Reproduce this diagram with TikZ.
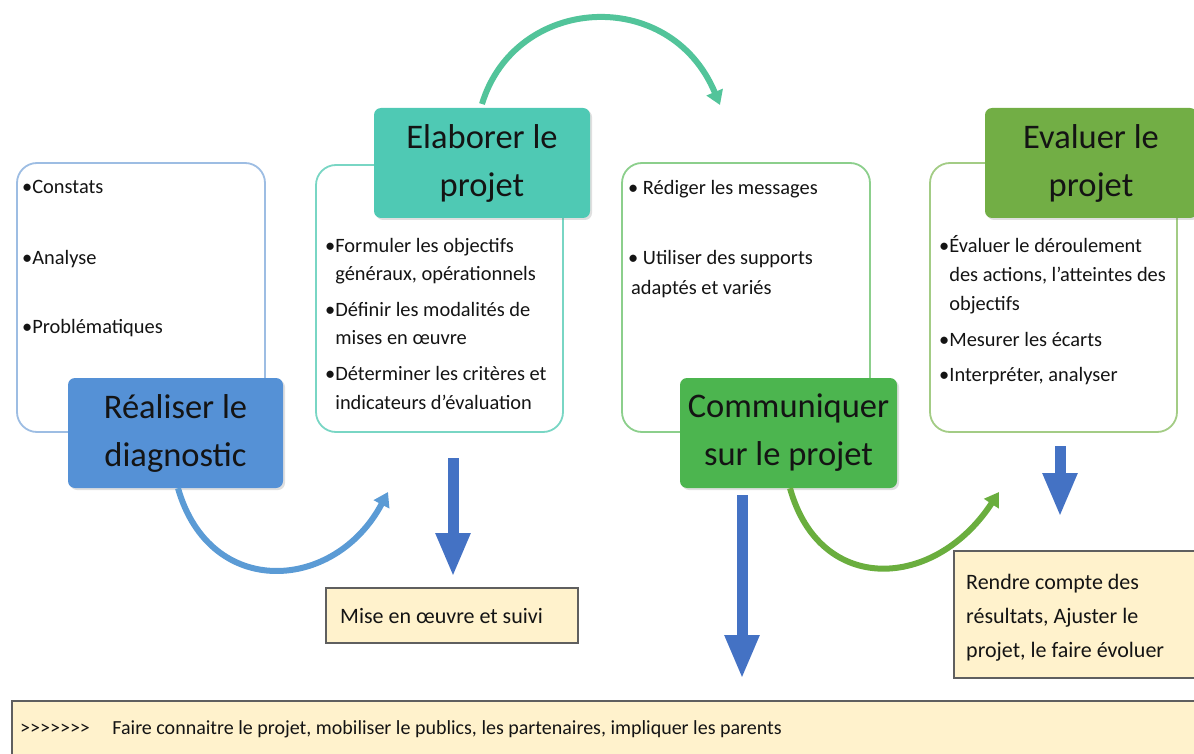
\documentclass[tikz,border=0pt]{standalone}
\usepackage{fontspec}
\setmainfont{Carlito}
\newfontfamily\gtfont{Carlito}[Ligatures=TeXOff]
\usetikzlibrary{arrows.meta,shadows}
\definecolor{tblue}{HTML}{5591D6}
\definecolor{tteal}{HTML}{4FC9B4}
\definecolor{tgreen}{HTML}{4CB54F}
\definecolor{tolive}{HTML}{72AE45}
\definecolor{bblue}{HTML}{9DBDE3}
\definecolor{bteal}{HTML}{79D6C4}
\definecolor{bgreen}{HTML}{8CCF8C}
\definecolor{bolive}{HTML}{A3CC85}
\definecolor{cblue}{HTML}{5B9BD5}
\definecolor{cteal}{HTML}{52C49A}
\definecolor{cgreen}{HTML}{6AAE3E}
\definecolor{arrowblue}{HTML}{4472C4}
\definecolor{yfill}{HTML}{FFF2CC}
\definecolor{ygray}{HTML}{5F5F5F}
\definecolor{ink}{HTML}{141414}
\tikzset{
  whitebox/.style={draw, line width=1.8pt, rounded corners=20pt, fill=white, inner sep=0pt},
  titlebox/.style={rounded corners=7pt, inner sep=0pt, align=center, text=ink,
     font=\fontsize{34.5}{48}\selectfont, drop shadow={opacity=0.25, shadow xshift=2pt, shadow yshift=-2pt}},
  txt/.style={anchor=base west, inner sep=0pt, text=ink, font=\fontsize{20.4}{28}\selectfont},
  ytxt/.style={anchor=base west, inner sep=0pt, text=ink, font=\fontsize{22}{28}\selectfont},
  ybox/.style={draw=ygray, line width=1.6pt, fill=yfill, inner sep=0pt},
  bigarrow/.style={draw=arrowblue, line width=11pt, -{Triangle[length=44pt,width=32pt]}},
  curvearrow/.style={line width=6pt, -{Triangle[length=14pt,width=17pt]}}
}
\begin{document}
\begin{tikzpicture}[x=1pt,y=-1pt]
\useasboundingbox (0,0) rectangle (1194,754);
\clip (0,0) rectangle (1194,754);

% white content boxes
\node[whitebox, draw=bblue, minimum width=248pt, minimum height=269pt] (box1) at (141,297.5) {};
\node[whitebox, draw=bteal, minimum width=247pt, minimum height=267pt] (box2) at (439.5,298.5) {};
\node[whitebox, draw=bgreen, minimum width=248pt, minimum height=269pt] (box3) at (746,297.5) {};
\node[whitebox, draw=bolive, minimum width=247pt, minimum height=269pt] (box4) at (1053.5,297.5) {};

% title boxes
\node[titlebox, fill=tblue, minimum width=215pt, minimum height=110pt] (t1) at (175.5,433) {Réaliser le\\diagnostic};
\node[titlebox, fill=tteal, minimum width=216pt, minimum height=110pt] (t2) at (482,163) {Elaborer le\\projet};
\node[titlebox, fill=tgreen, minimum width=217pt, minimum height=110pt] (t3) at (788.5,433) {Communiquer\\sur le projet};
\node[titlebox, fill=tolive, minimum width=212pt, minimum height=110pt] (t4) at (1091,163) {Evaluer le\\projet};

% box 1 text
\node[txt] (b1a) at (22,194) {•Constats};
\node[txt] (b1b) at (22,265) {•Analyse};
\node[txt] (b1c) at (22,333) {•Problématiques};

% box 2 text
\node[txt] (b2a) at (325,252) {•Formuler les objectifs};
\node[txt] (b2b) at (325,280) {\phantom{•}généraux, opérationnels};
\node[txt] (b2c) at (325,316) {•Définir les modalités de};
\node[txt] (b2d) at (325,344) {\phantom{•}mises en œuvre};
\node[txt] (b2e) at (325,380) {•Déterminer les critères et};
\node[txt] (b2f) at (325,409) {\phantom{•}indicateurs d’évaluation};

% box 3 text
\node[txt] (b3a) at (628,195) {• Rédiger les messages};
\node[txt] (b3b) at (628,265) {• Utiliser des supports};
\node[txt] (b3c) at (631,294) {adaptés et variés};

% box 4 text
\node[txt] (b4a) at (939,252) {•Évaluer le déroulement};
\node[txt] (b4b) at (939,281) {\phantom{•}des actions, l’atteintes des};
\node[txt] (b4c) at (939,310) {\phantom{•}objectifs};
\node[txt] (b4d) at (939,346) {•Mesurer les écarts};
\node[txt] (b4e) at (939,381) {•Interpréter, analyser};

% yellow boxes
\node[ybox, minimum width=252pt, minimum height=55pt] (y1) at (452,615.5) {};
\node[ytxt] (y1t) at (340,623) {Mise en œuvre et suivi};
\node[ybox, minimum width=300pt, minimum height=127pt] (y2) at (1104,614.5) {};
\node[ytxt] (y2a) at (966,589) {Rendre compte des};
\node[ytxt] (y2b) at (966,623) {résultats, Ajuster le};
\node[ytxt] (y2c) at (966,657) {projet, le faire évoluer};
\node[ybox, minimum width=1200pt, minimum height=70pt] (y3) at (612,736) {};
\node[txt, font=\fontsize{20}{24}\selectfont] (y3t) at (20,734) {{\gtfont >>>>>>>}\hspace{0.9em} Faire connaitre le projet, mobiliser le publics, les partenaires, impliquer les parents};

% curved arrows
\coordinate (c1e) at (388,492);
\coordinate (c2s) at (482,104);
\coordinate (c2e) at (720,105);
\coordinate (c3e) at (999,492);
\draw[curvearrow, cblue] (t1.south -| 178,0) .. controls (210,600) and (335,592) .. (c1e);
\draw[curvearrow, cteal] (c2s) .. controls (515,-5) and (670,-15) .. (c2e);
\draw[curvearrow, cgreen] (t3.south -| 790,0) .. controls (820,596) and (935,590) .. (c3e);

% straight arrows
\coordinate (a1s) at (453,458); \coordinate (a1e) at (453,577);
\coordinate (a2s) at (742,495); \coordinate (a2e) at (742,679);
\coordinate (a3s) at (1060,446); \coordinate (a3e) at (1060,517);
\draw[bigarrow] (a1s) -- (a1e);
\draw[bigarrow] (a2s) -- (a2e);
\draw[bigarrow] (a3s) -- (a3e);
\end{tikzpicture}
\end{document}
